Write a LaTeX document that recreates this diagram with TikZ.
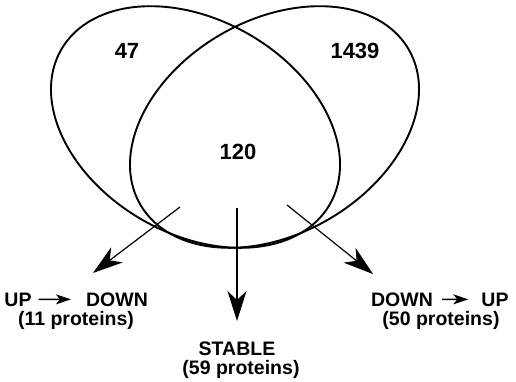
\documentclass[tikz,border=0pt]{standalone}
\usepackage{fontspec}
\setmainfont{Liberation Sans}
\usetikzlibrary{arrows.meta}
\begin{document}
\begin{tikzpicture}[x=1pt,y=-1pt,
  setring/.style={draw=black,line width=1.9pt},
  bigarrow/.style={draw=black,line width=1.2pt,-{Stealth[length=30pt,width=19pt,inset=9pt]}},
  smallarrow/.style={draw=black,line width=1.5pt,-{Stealth[length=15pt,width=10pt,inset=4pt]}},
  numlabel/.style={inner sep=0pt,font=\bfseries\fontsize{22}{26}\selectfont},
  txtlabel/.style={inner sep=0pt,anchor=base,font=\bfseries\fontsize{19.5}{22}\selectfont}]
\useasboundingbox (0,0) rectangle (516,381);
% sets
\draw[setring,rotate around={-30:(195.5,127)}] (195.5,127) ellipse [x radius=155pt, y radius=107pt];
\draw[setring,rotate around={30:(274.5,127)}] (274.5,127) ellipse [x radius=155pt, y radius=107pt];
% counts
\node[numlabel] (n47) at (127,51) {47};
\node[numlabel] (n1439) at (355,51) {1439};
\node[numlabel] (n120) at (238,152) {120};
% arrow start/end points
\coordinate (sL) at (180,207);
\coordinate (tL) at (93,273);
\coordinate (sM) at (237,208);
\coordinate (tM) at (237,321);
\coordinate (sR) at (287,205);
\coordinate (tR) at (373,274);
\draw[bigarrow] (sL) -- (tL);
\draw[bigarrow] (sM) -- (tM);
\draw[bigarrow] (sR) -- (tR);
% left label
\node[txtlabel] (up1) at (18,306) {UP};
\node[txtlabel] (down1) at (117,306) {DOWN};
\draw[smallarrow,shorten <=7pt,shorten >=15pt] (up1.east) -- (down1.west);
\node[txtlabel] (p11) at (76,325) {(11 proteins)};
% middle label
\node[txtlabel] (stable) at (237,355) {STABLE};
\node[txtlabel] (p59) at (241,374) {(59 proteins)};
% right label
\node[txtlabel] (down2) at (402,306) {DOWN};
\node[txtlabel] (up2) at (495,306) {UP};
\draw[smallarrow,shorten <=9pt,shorten >=13pt] (down2.east) -- (up2.west);
\node[txtlabel] (p50) at (441,325) {(50 proteins)};
\end{tikzpicture}
\end{document}
